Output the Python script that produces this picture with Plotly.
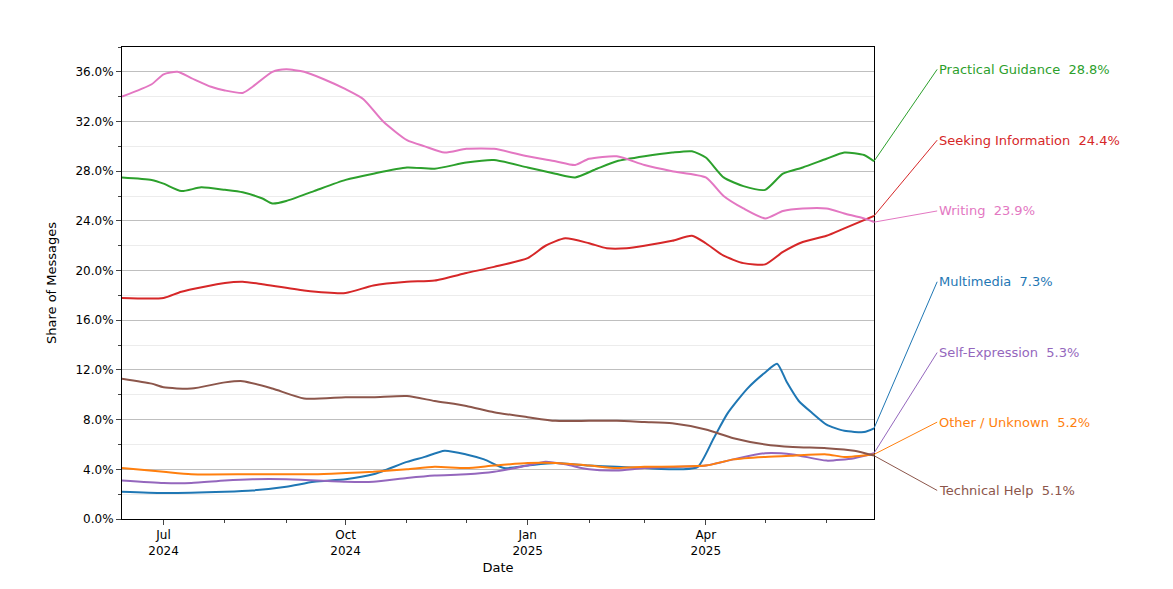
import plotly.graph_objects as go

series_names = ["Practical Guidance", "Seeking Information", "Writing", "Multimedia",
                "Self-Expression", "Other / Unknown", "Technical Help"]
colors = ["#2ca02c", "#d62728", "#e377c2", "#1f77b4", "#9467bd", "#ff7f0e", "#8c564b"]

writing_dates = ["2024-06-10","2024-06-25","2024-07-01","2024-07-08","2024-07-15","2024-07-25","2024-08-01",
    "2024-08-10","2024-08-15","2024-08-25","2024-09-01","2024-09-10","2024-09-20","2024-10-01","2024-10-10",
    "2024-10-20","2024-11-01","2024-11-10","2024-11-20","2024-12-01","2024-12-15","2025-01-01","2025-01-15",
    "2025-01-25","2025-02-01","2025-02-15","2025-03-01","2025-03-15","2025-04-01","2025-04-10","2025-04-20",
    "2025-05-01","2025-05-10","2025-05-20","2025-06-01","2025-06-10","2025-06-20","2025-06-25"]
writing = [34.0,35.0,35.8,36.0,35.5,34.8,34.5,34.3,34.8,36.0,36.2,36.0,35.4,34.6,33.8,32.0,30.5,30.0,29.5,
    29.8,29.8,29.2,28.8,28.5,29.0,29.2,28.5,28.0,27.5,26.0,25.0,24.2,24.8,25.0,25.0,24.6,24.2,23.9]

guidance_dates = ["2024-06-10","2024-06-25","2024-07-01","2024-07-10","2024-07-20","2024-08-01","2024-08-10",
    "2024-08-20","2024-08-25","2024-09-01","2024-09-15","2024-10-01","2024-10-15","2024-11-01","2024-11-15",
    "2024-12-01","2024-12-15","2025-01-01","2025-01-15","2025-01-25","2025-02-05","2025-02-15","2025-03-01",
    "2025-03-15","2025-03-25","2025-04-01","2025-04-10","2025-04-20","2025-05-01","2025-05-10","2025-05-20",
    "2025-06-01","2025-06-10","2025-06-20","2025-06-25"]
guidance = [27.5,27.3,27.0,26.4,26.7,26.5,26.3,25.8,25.4,25.6,26.4,27.3,27.8,28.3,28.2,28.7,28.9,28.3,27.8,
    27.5,28.2,28.8,29.2,29.5,29.6,29.1,27.5,26.8,26.5,27.8,28.3,29.0,29.5,29.3,28.8]

seeking_dates = ["2024-06-10","2024-07-01","2024-07-10","2024-08-01","2024-08-10","2024-08-20","2024-09-10",
    "2024-10-01","2024-10-15","2024-11-01","2024-11-15","2024-12-01","2024-12-15","2025-01-01","2025-01-10",
    "2025-01-20","2025-02-01","2025-02-10","2025-02-20","2025-03-01","2025-03-15","2025-03-25","2025-04-01",
    "2025-04-10","2025-04-20","2025-05-01","2025-05-10","2025-05-20","2025-06-01","2025-06-10","2025-06-25"]
seeking = [17.8,17.8,18.3,19.0,19.1,18.9,18.4,18.2,18.8,19.1,19.2,19.8,20.3,21.0,22.0,22.6,22.2,21.8,21.8,
    22.0,22.4,22.8,22.2,21.2,20.6,20.5,21.5,22.3,22.8,23.4,24.4]

tech_dates = ["2024-06-10","2024-06-25","2024-07-01","2024-07-15","2024-08-01","2024-08-10","2024-08-25",
    "2024-09-10","2024-10-01","2024-10-15","2024-11-01","2024-11-15","2024-12-01","2024-12-15","2025-01-01",
    "2025-01-15","2025-02-01","2025-02-15","2025-03-01","2025-03-15","2025-04-01","2025-04-15","2025-05-01",
    "2025-05-15","2025-06-01","2025-06-15","2025-06-25"]
tech = [11.3,10.9,10.6,10.5,11.0,11.1,10.5,9.7,9.8,9.8,9.9,9.5,9.1,8.6,8.2,7.9,7.9,7.9,7.8,7.7,7.2,6.5,
    6.0,5.8,5.7,5.5,5.1]

multi_dates = ["2024-06-10","2024-07-01","2024-08-01","2024-08-15","2024-09-01","2024-09-15","2024-10-01",
    "2024-10-15","2024-11-01","2024-11-10","2024-11-20","2024-12-01","2024-12-10","2024-12-20","2025-01-01",
    "2025-01-15","2025-02-01","2025-02-15","2025-03-01","2025-03-20","2025-03-28","2025-04-05","2025-04-12",
    "2025-04-22","2025-05-01","2025-05-07","2025-05-12","2025-05-18","2025-05-25","2025-06-01","2025-06-10",
    "2025-06-20","2025-06-25"]
multi = [2.2,2.1,2.2,2.3,2.6,3.0,3.2,3.6,4.6,5.0,5.5,5.2,4.8,4.1,4.3,4.5,4.3,4.2,4.1,4.0,4.2,6.5,8.5,10.5,
    11.8,12.5,11.0,9.5,8.5,7.6,7.1,7.0,7.3]

selfexp_dates = ["2024-06-10","2024-07-01","2024-07-15","2024-08-01","2024-08-15","2024-09-01","2024-10-01",
    "2024-10-15","2024-11-01","2024-11-15","2024-12-01","2024-12-15","2025-01-01","2025-01-10","2025-01-20",
    "2025-02-01","2025-02-15","2025-03-01","2025-04-01","2025-04-15","2025-05-01","2025-05-15","2025-06-01",
    "2025-06-15","2025-06-25"]
selfexp = [3.1,2.9,2.9,3.1,3.2,3.2,3.0,3.0,3.3,3.5,3.6,3.8,4.3,4.6,4.4,4.0,3.9,4.1,4.3,4.8,5.3,5.2,4.7,4.9,5.3]

other_dates = ["2024-06-10","2024-07-01","2024-07-15","2024-08-15","2024-09-15","2024-10-01","2024-10-15",
    "2024-11-01","2024-11-15","2024-12-01","2024-12-15","2025-01-01","2025-01-15","2025-02-01","2025-02-15",
    "2025-03-01","2025-04-01","2025-04-15","2025-05-01","2025-05-15","2025-06-01","2025-06-10","2025-06-25"]
other = [4.1,3.8,3.6,3.6,3.6,3.7,3.8,4.0,4.2,4.1,4.3,4.5,4.5,4.3,4.1,4.2,4.3,4.8,5.0,5.1,5.2,5.0,5.2]

end_labels = ["28.8%", "24.4%", "23.9%", "7.3%", "5.3%", "5.2%", "5.1%"]
label_levels = [36.2, 30.5, 24.8, 19.1, 13.4, 7.8, 2.3]

data = [(guidance_dates, guidance), (seeking_dates, seeking), (writing_dates, writing),
        (multi_dates, multi), (selfexp_dates, selfexp), (other_dates, other), (tech_dates, tech)]

fig = go.Figure()
shapes = []
annotations = []
for name, c, (d, v), lab, lev in zip(series_names, colors, data, end_labels, label_levels):
    fig.add_trace(go.Scatter(x=d, y=[x / 100 for x in v], mode="lines", name=name,
                             line=dict(color=c, width=2, shape="spline", smoothing=0.6)))
    shapes.append(dict(type="line", xref="paper", yref="y", x0=1.0, x1=1.084,
                       y0=v[-1] / 100, y1=lev / 100, line=dict(color=c, width=1)))
    annotations.append(dict(xref="paper", yref="y", x=1.084, y=lev / 100, xanchor="left",
                            text=f"{name}  {lab}", showarrow=False, font=dict(color=c, size=13)))

fig.update_layout(
    width=1173, height=589, plot_bgcolor="white", paper_bgcolor="white",
    margin=dict(l=114, r=307, t=39, b=78), showlegend=False,
    font=dict(family="DejaVu Sans", size=12, color="black"),
    shapes=shapes, annotations=annotations,
)
fig.update_xaxes(
    range=["2024-06-10", "2025-06-25"], showgrid=False, showline=True, mirror=True,
    linecolor="black", ticks="outside",
    tickvals=["2024-07-01", "2024-10-01", "2025-01-01", "2025-04-01"],
    ticktext=["Jul<br>2024", "Oct<br>2024", "Jan<br>2025", "Apr<br>2025"],
    minor=dict(dtick="M1", tick0="2024-07-01", ticks="outside", ticklen=3, showgrid=False),
    title=dict(text="Date", standoff=5, font=dict(size=13)),
)
fig.update_yaxes(
    range=[0, 0.38], dtick=0.04, tickformat=".1%", showline=True, mirror=True,
    linecolor="black", ticks="outside", gridcolor="#bfbfbf", zeroline=False,
    minor=dict(dtick=0.02, ticks="outside", ticklen=3, showgrid=True, gridcolor="#ececec"),
    title=dict(text="Share of Messages", font=dict(size=13)),
)
fig.write_html("out.html")
